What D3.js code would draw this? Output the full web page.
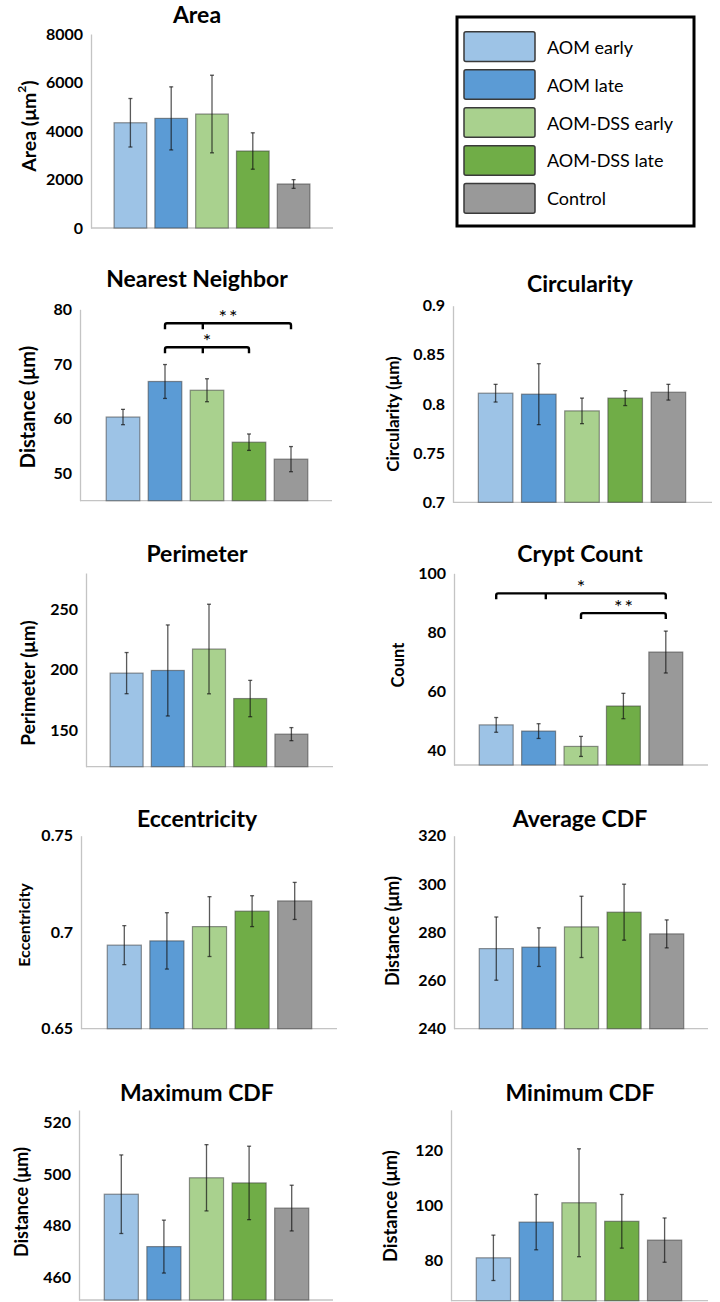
<!DOCTYPE html>
<html>
<head>
<meta charset="utf-8">
<script src="https://cdn.jsdelivr.net/npm/d3@7"></script>
<style>
  html, body { margin: 0; padding: 0; background: #fff; }
  svg { display: block; }
  text { font-family: Lato, "Open Sans", "Liberation Sans", sans-serif; fill: #000; }
</style>
</head>
<body>
<svg id="chart" width="720" height="1302"></svg>
<script>
// ---------------- data ----------------
const groups = ["AOM early", "AOM late", "AOM-DSS early", "AOM-DSS late", "Control"];
const groupColors = ["#9DC3E6", "#5B9BD5", "#A9D18E", "#70AD47", "#999999"];

const areaMeans = [4340, 4520, 4700, 3175, 1815];
const areaErrs = [1000, 1300, 1600, 750, 180];
const areaTicks = [0, 2000, 4000, 6000, 8000];

const nnMeans = [60.3, 66.8, 65.2, 55.7, 52.6];
const nnErrs = [1.4, 3.1, 2.1, 1.5, 2.3];
const nnTicks = [50, 60, 70, 80];

const circMeans = [0.811, 0.810, 0.793, 0.806, 0.812];
const circErrs = [0.009, 0.031, 0.013, 0.0076, 0.008];
const circTicks = [0.7, 0.75, 0.8, 0.85, 0.9];

const perimMeans = [197.3, 199.5, 217.2, 176.3, 146.9];
const perimErrs = [17, 37.6, 37, 15, 5.4];
const perimTicks = [150, 200, 250];

const cryptMeans = [48.6, 46.5, 41.3, 55.0, 73.3];
const cryptErrs = [2.5, 2.5, 3.4, 4.3, 7.1];
const cryptTicks = [40, 60, 80, 100];

const eccMeans = [0.6933, 0.6955, 0.7029, 0.7109, 0.7162];
const eccErrs = [0.0101, 0.0146, 0.0155, 0.008, 0.0096];
const eccTicks = [0.65, 0.7, 0.75];

const avgMeans = [273.2, 273.8, 282.2, 288.3, 279.3];
const avgErrs = [13.1, 8.0, 12.7, 11.6, 5.8];
const avgTicks = [240, 260, 280, 300, 320];

const maxMeans = [492.2, 471.8, 498.6, 496.6, 486.8];
const maxErrs = [15.3, 10.3, 12.9, 14.3, 8.9];
const maxTicks = [460, 480, 500, 520];

const minMeans = [81.0, 93.9, 100.9, 94.2, 87.4];
const minErrs = [8.2, 10.0, 19.5, 9.7, 8.0];
const minTicks = [80, 100, 120];

// significance brackets: [fromIndex, toIndex, midIndex (or null), level, label]
const nnBrackets = [[1, 4, 1.9, 77.45, "**"], [1, 3, 1.9, 73.05, "*"]];
const cryptBrackets = [[0, 4, 1.17, 93.2, "*"], [2, 4, null, 86.5, "**"]];

// ---------------- layout ----------------
const panels = [
  { title: "Area", yLabel: "Area (\u03bcm", sup: "2", yLabelEnd: ")", means: areaMeans, errs: areaErrs, ticks: areaTicks,
    domain: [0, 8000], yr: [228, 34], axisX: 91, bars: [114, 310], baseEnd: 333, titleX: 197, titleY: 23, labX: 28, labY: 126, labSize: 19.5 },
  { title: "Nearest Neighbor", yLabel: "Distance (\u03bcm)", means: nnMeans, errs: nnErrs, ticks: nnTicks,
    domain: [45, 80], yr: [500.7, 309.3], axisX: 80, bars: [106, 308], baseEnd: 332, titleX: 197, titleY: 287, labX: 27, labY: 407, labSize: 20, brackets: nnBrackets },
  { title: "Circularity", yLabel: "Circularity (\u03bcm)", means: circMeans, errs: circErrs, ticks: circTicks,
    domain: [0.7, 0.9], yr: [502.3, 305.7], axisX: 453, bars: [478, 686], baseEnd: 712, titleX: 580, titleY: 292, labX: 392, labY: 414, labSize: 17 },
  { title: "Perimeter", yLabel: "Perimeter (\u03bcm)", means: perimMeans, errs: perimErrs, ticks: perimTicks,
    domain: [120, 280], yr: [766.7, 573], axisX: 86, bars: [110, 308], baseEnd: 333, titleX: 197, titleY: 562, labX: 27, labY: 683, labSize: 19 },
  { title: "Crypt Count", yLabel: "Count", means: cryptMeans, errs: cryptErrs, ticks: cryptTicks,
    domain: [35, 100], yr: [765, 573.3], axisX: 454, bars: [479, 683], baseEnd: 708, titleX: 580, titleY: 562, labX: 398, labY: 665, labSize: 16.5, brackets: cryptBrackets },
  { title: "Eccentricity", yLabel: "Eccentricity", means: eccMeans, errs: eccErrs, ticks: eccTicks,
    domain: [0.65, 0.75], yr: [1028.7, 835.7], axisX: 81, bars: [107, 312], baseEnd: 337, titleX: 197, titleY: 827, labX: 23, labY: 925, labSize: 16 },
  { title: "Average CDF", yLabel: "Distance (\u03bcm)", means: avgMeans, errs: avgErrs, ticks: avgTicks,
    domain: [240, 320], yr: [1028.7, 835.7], axisX: 454, bars: [479, 684], baseEnd: 708, titleX: 580, titleY: 827, labX: 392, labY: 931, labSize: 18 },
  { title: "Maximum CDF", yLabel: "Distance (\u03bcm)", means: maxMeans, errs: maxErrs, ticks: maxTicks,
    domain: [451, 525], yr: [1300, 1110], axisX: 79, bars: [104, 309], baseEnd: 333, titleX: 197, titleY: 1101, labX: 21, labY: 1202, labSize: 18 },
  { title: "Minimum CDF", yLabel: "Distance (\u03bcm)", means: minMeans, errs: minErrs, ticks: minTicks,
    domain: [65.5, 134.5], yr: [1300.7, 1109.8], axisX: 451, bars: [476, 682], baseEnd: 708, titleX: 580, titleY: 1101, labX: 390, labY: 1206, labSize: 18.3 }
];

const svg = d3.select("#chart");
svg.append("rect").attr("width", 720).attr("height", 1302).attr("fill", "#fff");

panels.forEach(p => {
  const g = svg.append("g");
  const y = d3.scaleLinear().domain(p.domain).range(p.yr);
  const x = d3.scaleBand().domain(d3.range(groups.length))
    .range([p.bars[0] - 4, p.bars[1] + 4]).paddingInner(0.2).paddingOuter(0.1);
  const base = y(p.domain[0]);

  // title
  g.append("text").attr("x", p.titleX).attr("y", p.titleY)
    .attr("text-anchor", "middle").attr("font-size", 23).attr("font-weight", 700).text(p.title);

  // y axis
  const yAxis = d3.axisLeft(y).tickValues(p.ticks).tickSize(0).tickPadding(8)
    .tickFormat(d3.format("~g"));
  const ax = g.append("g").attr("transform", `translate(${p.axisX},0)`).call(yAxis);
  ax.select(".domain").attr("stroke", "#c4c4c4").attr("stroke-width", 1.3);
  ax.selectAll(".tick text").attr("font-size", 16).attr("font-weight", 700)
    .attr("font-family", "Lato, sans-serif").attr("fill", "#000");

  // baseline
  g.append("line").attr("x1", p.axisX).attr("x2", p.baseEnd).attr("y1", base).attr("y2", base)
    .attr("stroke", "#c4c4c4").attr("stroke-width", 1.3);

  // bars
  g.selectAll("rect.bar").data(p.means).join("rect").attr("class", "bar")
    .attr("x", (d, i) => x(i)).attr("width", x.bandwidth())
    .attr("y", d => y(d)).attr("height", d => base - y(d))
    .attr("fill", (d, i) => groupColors[i])
    .attr("stroke", "rgba(60,60,60,0.55)").attr("stroke-width", 1.2);

  // error bars
  const eb = g.selectAll("g.err").data(p.means).join("g").attr("class", "err")
    .attr("stroke", "rgba(20,20,20,0.7)").attr("stroke-width", 1.3);
  eb.append("line")
    .attr("x1", (d, i) => x(i) + x.bandwidth() / 2).attr("x2", (d, i) => x(i) + x.bandwidth() / 2)
    .attr("y1", (d, i) => y(d + p.errs[i])).attr("y2", (d, i) => y(d - p.errs[i]));
  eb.append("line")
    .attr("x1", (d, i) => x(i) + x.bandwidth() / 2 - 2).attr("x2", (d, i) => x(i) + x.bandwidth() / 2 + 2)
    .attr("y1", (d, i) => y(d + p.errs[i])).attr("y2", (d, i) => y(d + p.errs[i]));
  eb.append("line")
    .attr("x1", (d, i) => x(i) + x.bandwidth() / 2 - 2).attr("x2", (d, i) => x(i) + x.bandwidth() / 2 + 2)
    .attr("y1", (d, i) => y(d - p.errs[i])).attr("y2", (d, i) => y(d - p.errs[i]));

  // y label
  const lab = g.append("text").attr("transform", `translate(${p.labX},${p.labY}) rotate(-90)`)
    .attr("text-anchor", "middle").attr("dominant-baseline", "central")
    .attr("font-size", p.labSize).attr("font-weight", 700);
  lab.append("tspan").text(p.yLabel);
  if (p.sup) {
    lab.append("tspan").attr("font-size", p.labSize * 0.62).attr("dy", -7).text(p.sup);
    lab.append("tspan").attr("dy", 7).text(p.yLabelEnd);
  }

  // significance brackets
  if (p.brackets) {
    const cx = i => x(Math.floor(i)) + x.bandwidth() / 2 + (i - Math.floor(i)) * x.step();
    p.brackets.forEach(([a, b, m, lvl, label]) => {
      const x1 = cx(a), x2 = cx(b), yy = y(lvl), drop = 6;
      const path = d3.path();
      path.moveTo(x1, yy + drop);
      path.lineTo(x1, yy + 2);
      path.quadraticCurveTo(x1, yy, x1 + 2, yy);
      path.lineTo(x2 - 2, yy);
      path.quadraticCurveTo(x2, yy, x2, yy + 2);
      path.lineTo(x2, yy + drop);
      if (m !== null) {
        path.moveTo(cx(m), yy);
        path.lineTo(cx(m), yy + drop);
      }
      g.append("path").attr("d", path.toString()).attr("fill", "none")
        .attr("stroke", "#000").attr("stroke-width", 2.4).attr("stroke-linejoin", "round");
      g.append("text").attr("x", (x1 + x2) / 2 + (label.length > 1 ? 1 : 0)).attr("y", yy + 1)
        .attr("text-anchor", "middle").attr("font-size", 20).attr("letter-spacing", label.length > 1 ? 2 : 0)
        .attr("font-family", "DejaVu Sans, sans-serif").attr("fill", "#333").text(label);
    });
  }
});

// ---------------- legend ----------------
const leg = svg.append("g");
leg.append("rect").attr("x", 457).attr("y", 17).attr("width", 237).attr("height", 209)
  .attr("fill", "#fff").attr("stroke", "#000").attr("stroke-width", 3);
const legY = d3.scaleBand().domain(d3.range(groups.length)).range([28, 217]).paddingInner(0.22).paddingOuter(0.1);
const items = leg.selectAll("g.item").data(groups).join("g").attr("class", "item");
items.append("rect").attr("x", 464).attr("y", (d, i) => legY(i)).attr("width", 71).attr("height", legY.bandwidth())
  .attr("rx", 2).attr("fill", (d, i) => groupColors[i]).attr("stroke", "#3a3a3a").attr("stroke-width", 1.5);
items.append("text").attr("x", 547).attr("y", (d, i) => legY(i) + legY.bandwidth() / 2)
  .attr("dominant-baseline", "central").attr("font-size", 18).text(d => d);
</script>
</body>
</html>
